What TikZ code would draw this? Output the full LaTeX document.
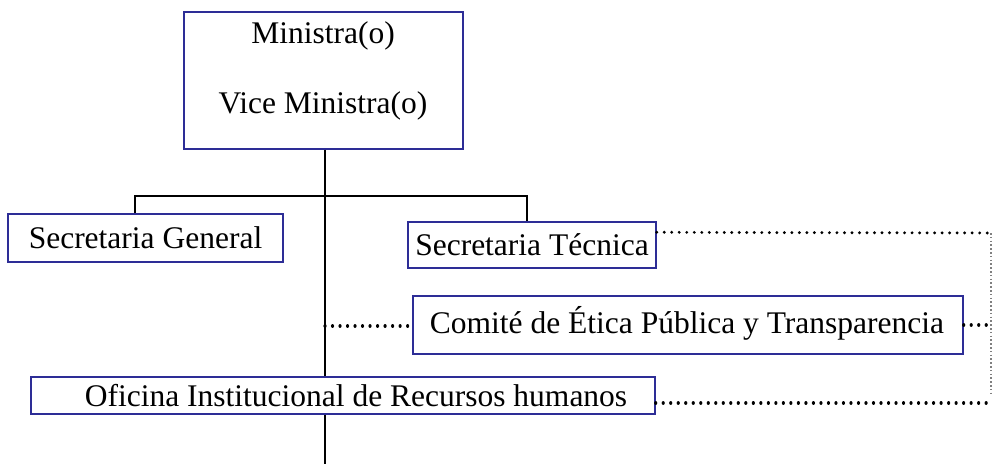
\documentclass[tikz,border=0pt]{standalone}
\usepackage{fontspec}
\setmainfont{Liberation Serif}
\definecolor{boxblue}{RGB}{45,45,150}
\begin{document}
\begin{tikzpicture}[x=1pt,y=-1pt,
  box/.style={draw=boxblue,line width=1.4pt,fill=white,rectangle,inner sep=0pt},
  lbl/.style={inner sep=0pt,font=\fontsize{31.5}{38}\selectfont},
  link/.style={line width=2pt,black},
  dotl/.style={line width=3.2pt,line cap=round,dash pattern=on 0.01pt off 7.5pt},
  thindot/.style={line width=1.1pt,gray,dash pattern=on 1.6pt off 2.2pt}]
\useasboundingbox (0,0) rectangle (994,464);
\coordinate (jn) at (325,197);
\coordinate (bot) at (325,464);
\coordinate (rc) at (991,233);
\coordinate (cl) at (325,326);
% boxes
\node[box,minimum width=279,minimum height=137] (top) at (323.5,80.5) {};
\node[lbl] (t1) at (323,36) {Ministra(o)};
\node[lbl] (t2) at (323,106) {Vice Ministra(o)};
\node[box,lbl,minimum width=275,minimum height=48] (sg) at (145.5,238) {Secretaria General};
\node[box,lbl,minimum width=248,minimum height=46] (st) at (532,245) {Secretaria Técnica};
\node[box,minimum width=550,minimum height=58] (ce) at (688,325) {};
\node[lbl] (cet) at (687,323) {Comité de Ética Pública y Transparencia};
\node[box,minimum width=624,minimum height=37] (of) at (343,395.5) {};
\node[lbl] (oft) at (356,396) {Oficina Institucional de Recursos humanos};
% solid connectors
\draw[link] (top.south -| jn) -- (of.north -| jn);
\draw[link] (of.south -| jn) -- (bot);
\draw[link] ([xshift=-10.5pt]sg.north) -- ++(0,-17) -| ([xshift=-5pt]st.north);
% dotted connectors
\draw[dotl] ([yshift=-11pt]st.north east) -- (rc);
\draw[thindot] (rc) -- (rc |- of.east);
\draw[dotl] ([yshift=-7.5pt]of.east) -- ([yshift=-7.5pt]of.east -| rc);
\draw[dotl] (cl) -- (cl -| ce.west);
\draw[dotl] (ce.east) -- (ce.east -| rc);
\end{tikzpicture}
\end{document}
